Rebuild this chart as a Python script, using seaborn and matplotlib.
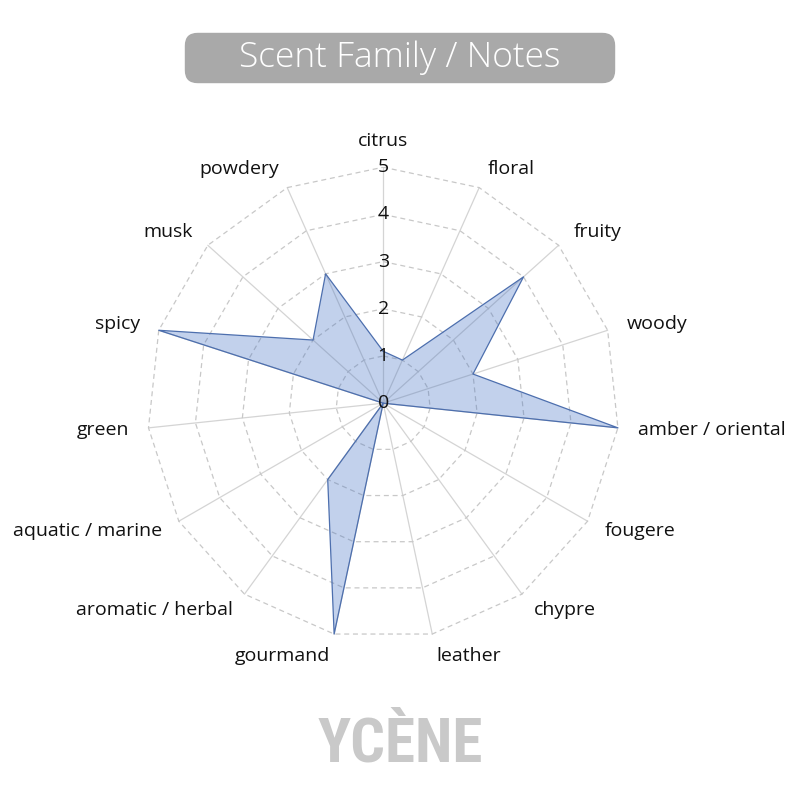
import numpy as np
import matplotlib
matplotlib.use("Agg")
import matplotlib.pyplot as plt
import seaborn as sns
from matplotlib.patches import FancyBboxPatch

categories = ["citrus", "floral", "fruity", "woody", "amber / oriental", "fougere",
              "chypre", "leather", "gourmand", "aromatic / herbal", "aquatic / marine",
              "green", "spicy", "musk", "powdery"]
scores = [1.1, 1, 4, 2, 5, 0, 0, 0, 5, 2, 0, 0, 5, 2, 3]
levels = [0, 1, 2, 3, 4, 5]

sns.set_theme(style="white")
plt.rcParams['font.family'] = ['Open Sans', 'DejaVu Sans']

fig = plt.figure(figsize=(8, 8), dpi=100)
fig.patch.set_facecolor("white")
ax = fig.add_axes([0.184, 0.201, 0.59, 0.59])
ax.set_aspect("equal")
ax.set_xlim(-5, 5)
ax.set_ylim(-5, 5)
ax.axis("off")

n = len(categories)
angles = np.pi / 2 - np.arange(n) * 2 * np.pi / n
cos_a, sin_a = np.cos(angles), np.sin(angles)

# spokes
for c, s in zip(cos_a, sin_a):
    ax.plot([0, 5 * c], [0, 5 * s], color="#d4d4d4", lw=0.9, zorder=1)

# dashed polygon rings
for lv in levels[1:]:
    xs = np.append(lv * cos_a, lv * cos_a[0])
    ys = np.append(lv * sin_a, lv * sin_a[0])
    ax.plot(xs, ys, color="#c8c8c8", lw=0.9, ls=(0, (4, 3)), zorder=1)

# data polygon
vals = np.array(scores, dtype=float)
px = np.append(vals * cos_a, vals[0] * cos_a[0])
py = np.append(vals * sin_a, vals[0] * sin_a[0])
ax.fill(px, py, color="#4472C4", alpha=0.32, lw=0, zorder=2)
sns.lineplot(x=px, y=py, sort=False, estimator=None, color="#4d6fae", lw=0.9, ax=ax, zorder=3)

# radial tick labels
for lv in levels:
    ax.text(0, lv, str(lv), ha="center", va="center", fontsize=14, color="#111111", zorder=4)

# category labels
for lab, c, s in zip(categories, cos_a, sin_a):
    r = 5.55 if s > 0.95 else 5.42
    if abs(c) < 0.05:
        ha = "center"
    elif c > 0:
        ha = "left"
    else:
        ha = "right"
    dy = -0.05 if s < -0.9 else 0
    ax.text(r * c, r * s + dy, lab, ha=ha, va="center", fontsize=14, color="#111111")

# title box
box = FancyBboxPatch((0.231, 0.896), 0.538, 0.063, boxstyle="round,pad=0,rounding_size=0.016",
                     transform=fig.transFigure, facecolor="#a9a9a9", edgecolor="none")
fig.patches.append(box)
fig.text(0.5, 0.928, "Scent Family / Notes", ha="center", va="center",
         fontsize=25.5, fontweight="light", color="white")

fig.text(0.5, 0.07, "YCÈNE", ha="center", va="center", fontsize=44, fontweight="bold",
         fontstretch="condensed", color="#c9c9c9",
         family=["Roboto Condensed", "DejaVu Sans"])

fig.savefig("out.png", dpi=100, facecolor="white")
